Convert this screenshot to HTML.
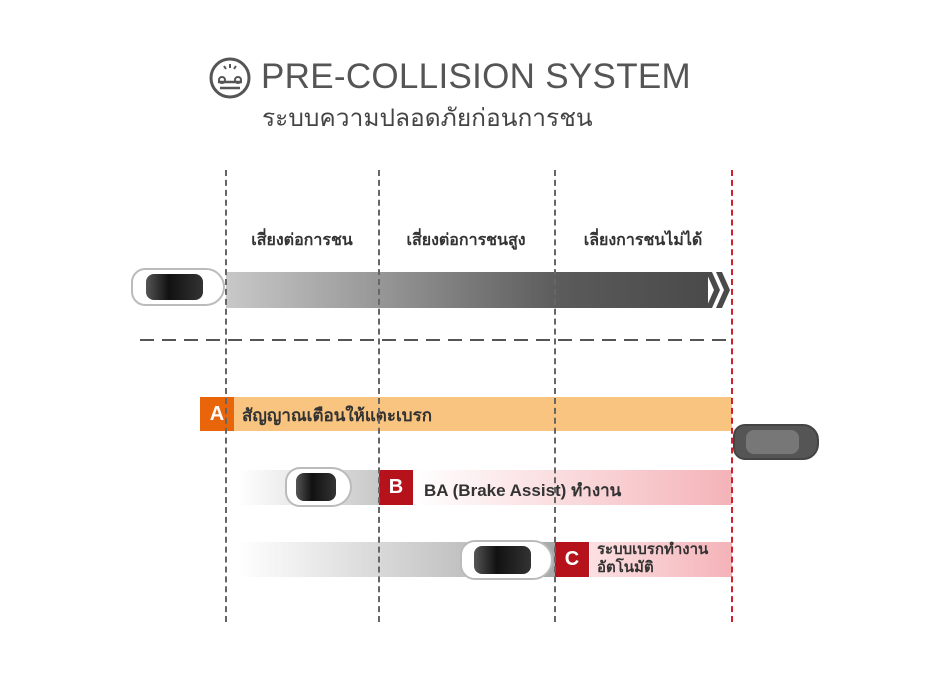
<!DOCTYPE html>
<html><head><meta charset="utf-8"><style>
body{margin:0;width:950px;height:679px;background:#fff;position:relative;overflow:hidden;font-family:"Liberation Sans","DejaVu Sans",sans-serif;}
.a{position:absolute}
.vl{position:absolute;top:170px;height:452px;width:0;border-left:2px dashed #666;}
.lbl{position:absolute;top:228px;font-size:16px;font-weight:bold;color:#333;text-align:center;width:160px}
.badge{position:absolute;width:34px;height:35px;color:#fff;font-weight:bold;font-size:20px;text-align:center;line-height:35px}
.car{position:absolute;border-radius:18px 24px 24px 18px;background:#fff;border:2px solid #bbb;box-sizing:border-box}
.car i{position:absolute;left:14%;right:22%;top:12%;bottom:12%;background:linear-gradient(90deg,#555,#111 40%,#333);border-radius:8px}
</style></head><body>
<svg class="a" style="left:208px;top:56px" width="44" height="44" viewBox="0 0 44 44"><circle cx="22" cy="22" r="19" fill="none" stroke="#555" stroke-width="3"/><path d="M10 26h24M12 32h20" stroke="#555" stroke-width="2.5" fill="none"/><circle cx="14" cy="24" r="3" fill="none" stroke="#555" stroke-width="2"/><circle cx="30" cy="24" r="3" fill="none" stroke="#555" stroke-width="2"/><path d="M22 8v4M16 10l2 3M28 10l-2 3" stroke="#555" stroke-width="2"/></svg>
<div class="a" style="left:261px;top:57px;font-size:35px;color:#555;letter-spacing:0.3px">PRE-COLLISION SYSTEM</div>
<div class="a" style="left:262px;top:98px;font-size:24.5px;color:#444">ระบบความปลอดภัยก่อนการชน</div>

<div class="lbl" style="left:222px">เสี่ยงต่อการชน</div>
<div class="lbl" style="left:386px">เสี่ยงต่อการชนสูง</div>
<div class="lbl" style="left:563px">เลี่ยงการชนไม่ได้</div>

<div class="a" style="left:226px;top:272px;width:482px;height:36px;background:linear-gradient(90deg,#c8c8c8,#8a8a8a 40%,#5a5a5a 70%,#4a4a4a)"></div>
<svg class="a" style="left:706px;top:272px" width="28" height="36"><polygon points="0,0 6,0 14,18 6,36 0,36 8,18" fill="#4a4a4a"/><polygon points="10,0 16,0 24,18 16,36 10,36 18,18" fill="#4a4a4a"/></svg>

<svg class="a" style="left:140px;top:338px" width="594" height="4"><line x1="0" y1="2" x2="594" y2="2" stroke="#555" stroke-width="2" stroke-dasharray="14,8"/></svg>

<div class="a" style="left:234px;top:397px;width:498px;height:34px;background:#f9c47f"></div>
<div class="badge" style="left:200px;top:397px;height:34px;line-height:34px;background:#e8650a">A</div>
<div class="a" style="left:242px;top:402px;font-size:17px;font-weight:bold;color:#333">สัญญาณเตือนให้แตะเบรก</div>

<div class="a" style="left:238px;top:470px;width:141px;height:35px;background:linear-gradient(90deg,#fff,#c8c8c8)"></div>
<div class="a" style="left:413px;top:470px;width:319px;height:35px;background:linear-gradient(90deg,#fff,#f4b3b8)"></div>
<div class="badge" style="left:379px;top:470px;background:#b5121b">B</div>
<div class="a" style="left:424px;top:477px;font-size:17px;font-weight:bold;color:#333">BA (Brake Assist) ทำงาน</div>

<div class="a" style="left:238px;top:542px;width:317px;height:35px;background:linear-gradient(90deg,#fff,#a8a8a8)"></div>
<div class="a" style="left:590px;top:542px;width:142px;height:35px;background:linear-gradient(90deg,#fce0e2,#f4b3b8)"></div>
<div class="badge" style="left:555px;top:542px;background:#b5121b">C</div>
<div class="a" style="left:597px;top:541px;font-size:15px;font-weight:bold;color:#333;line-height:18px">ระบบเบรกทำงาน<br>อัตโนมัติ</div>

<div class="vl" style="left:225px"></div>
<div class="vl" style="left:378px"></div>
<div class="vl" style="left:554px"></div>
<div class="vl" style="left:731px;border-color:#d0202a"></div>

<div class="car" style="left:131px;top:268px;width:94px;height:38px"><i></i></div>
<div class="car" style="left:285px;top:467px;width:67px;height:40px"><i></i></div>
<div class="car" style="left:460px;top:540px;width:93px;height:40px"><i></i></div>
<div class="car" style="left:733px;top:424px;width:86px;height:36px;background:#555;border-color:#444;border-radius:12px 16px 16px 12px"><i style="background:#777"></i></div>
</body></html>
